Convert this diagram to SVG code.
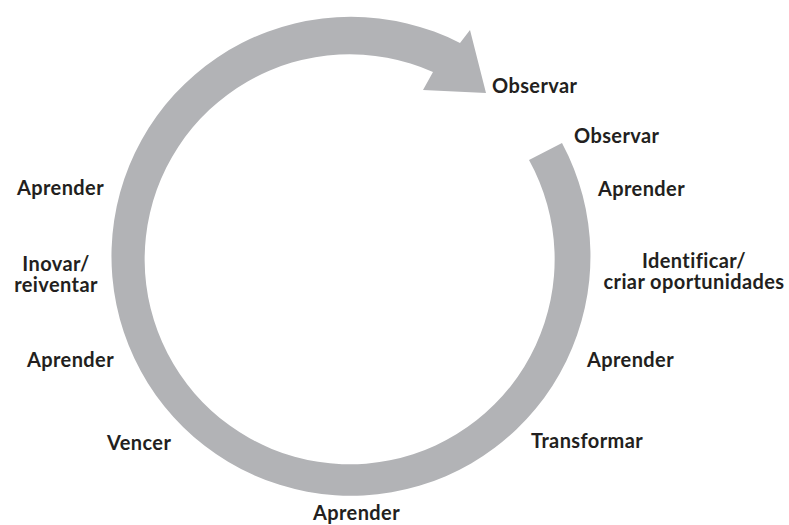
<svg xmlns="http://www.w3.org/2000/svg" width="789" height="525" viewBox="0 0 789 525">
<style>
.lbl{font-family:Lato,"Open Sans","Liberation Sans",sans-serif;font-weight:700;font-size:20px;letter-spacing:0.4px;fill:#231f20;font-variant-ligatures:none}
.mid{text-anchor:middle}
.band{fill:#b2b3b6}
</style>
<rect width="789" height="525" fill="#ffffff"/>
<g id="connectors">
<path class="band" d="M562,143 A239.5,239.5 0 1 1 460,43 L470,30 L486,93 L423,90 L433,72 A205,205 0 1 0 529,160 Z"/>
</g>
<g id="n-observar-top"><text class="lbl" x="492" y="93">Observar</text></g>
<g id="n-observar"><text class="lbl" x="574" y="143">Observar</text></g>
<g id="n-aprender-r1"><text class="lbl" x="598" y="196">Aprender</text></g>
<g id="n-identificar"><text class="lbl mid" x="694" y="268">Identificar/</text><text class="lbl mid" x="694" y="289">criar oportunidades</text></g>
<g id="n-aprender-r2"><text class="lbl" x="587" y="367">Aprender</text></g>
<g id="n-transformar"><text class="lbl" x="531" y="448">Transformar</text></g>
<g id="n-aprender-bottom"><text class="lbl" x="313" y="520">Aprender</text></g>
<g id="n-vencer"><text class="lbl" x="107" y="450">Vencer</text></g>
<g id="n-aprender-l2"><text class="lbl" x="27" y="367">Aprender</text></g>
<g id="n-inovar"><text class="lbl mid" x="56" y="271">Inovar/</text><text class="lbl mid" x="56" y="292">reiventar</text></g>
<g id="n-aprender-l1"><text class="lbl" x="17" y="195">Aprender</text></g>
</svg>
